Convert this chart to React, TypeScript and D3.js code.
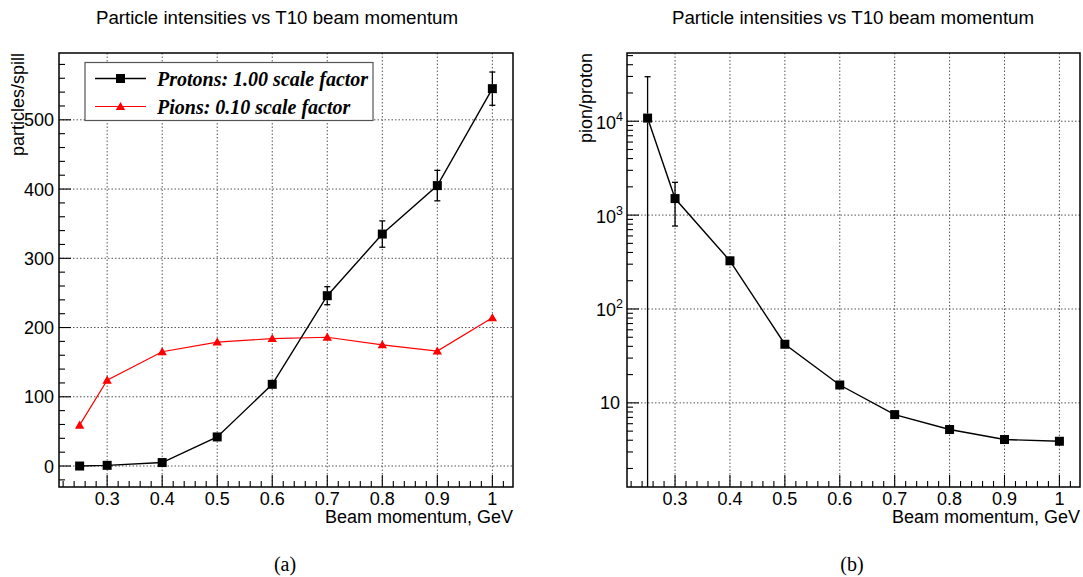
import React from 'react';
import * as d3 from 'd3';

// ---- data ----
const momenta = [0.25, 0.3, 0.4, 0.5, 0.6, 0.7, 0.8, 0.9, 1.0];
const protons = [0, 1, 5, 42, 118, 246, 335, 405, 545];
const protonErr = [0.5, 0.8, 1.5, 3, 6, 13, 19, 22, 24];
const pions = [59, 124, 165, 179, 184, 186, 175, 166, 214];
const ratio = [10800, 1500, 326, 42.1, 15.5, 7.5, 5.2, 4.07, 3.9];
const ratioErr = [19000, 735, 25, 2.5, 0.8, 0.35, 0.2, 0.15, 0.14];

const xTickValues = [0.3, 0.4, 0.5, 0.6, 0.7, 0.8, 0.9, 1.0];
const xTickLabels = ['0.3', '0.4', '0.5', '0.6', '0.7', '0.8', '0.9', '1'];
const yLinTicks = [0, 100, 200, 300, 400, 500];
const yLogDecades = [10, 100, 1000, 10000];
const yLogLabels = [
  { base: '10', exp: '' },
  { base: '10', exp: '2' },
  { base: '10', exp: '3' },
  { base: '10', exp: '4' },
];

const titleText = 'Particle intensities vs T10 beam momentum';
const xTitle = 'Beam momentum, GeV';
const legendLabels = ['Protons: 1.00 scale factor', 'Pions: 0.10 scale factor'];

const SANS = '"Liberation Sans", Arial, Helvetica, sans-serif';
const SERIF = '"Liberation Serif", "Times New Roman", serif';
const FS = 18;

const MAJ = 12;
const MIN = 6;

function Frame({ L, R, T, B }: any) {
  return <rect x={L} y={T} width={R - L} height={B - T} fill="none" stroke="#000" strokeWidth={1.5} />;
}

function XAxis({ x, T, B }: any) {
  const [d0, d1] = x.domain();
  const minors: number[] = [];
  for (let v = 0.2; v <= d1 + 1e-9; v += 0.02) {
    const r = Math.round(v * 100) / 100;
    if (r >= d0 && Math.round(r * 100) % 10 !== 0) minors.push(r);
  }
  return (
    <g>
      {xTickValues.map((v) => (
        <line key={'g' + v} x1={x(v)} x2={x(v)} y1={T} y2={B} stroke="#555" strokeWidth={1} strokeDasharray="1.5,2" />
      ))}
      {xTickValues.map((v) => (
        <line key={'t' + v} x1={x(v)} x2={x(v)} y1={B} y2={B - MAJ} stroke="#000" strokeWidth={1.1} />
      ))}
      {minors.map((v) => (
        <line key={'m' + v} x1={x(v)} x2={x(v)} y1={B} y2={B - MIN} stroke="#000" strokeWidth={1.1} />
      ))}
      {xTickValues.map((v, i) => (
        <text key={'l' + v} x={x(v)} y={B + 18} textAnchor="middle" fontFamily={SANS} fontSize={FS}>
          {xTickLabels[i]}
        </text>
      ))}
    </g>
  );
}

function ErrorBars({ x, y, xs, ys, es, ymin, B, color }: any) {
  return (
    <g>
      {xs.map((xv: number, i: number) => {
        const cx = x(xv);
        const cy = y(ys[i]);
        const hi = ys[i] + es[i];
        const lo = ys[i] - es[i];
        const yHi = y(hi);
        const loClipped = lo <= ymin;
        const yLo = loClipped ? B : y(lo);
        const segs: any[] = [];
        if (cy - yHi > 4.5) {
          segs.push(<line key="u" x1={cx} x2={cx} y1={cy - 4.5} y2={yHi} stroke={color} strokeWidth={1.3} />);
          segs.push(<line key="uc" x1={cx - 3} x2={cx + 3} y1={yHi} y2={yHi} stroke={color} strokeWidth={1.3} />);
        }
        if (yLo - cy > 4.5) {
          segs.push(<line key="d" x1={cx} x2={cx} y1={cy + 4.5} y2={yLo} stroke={color} strokeWidth={1.3} />);
          if (!loClipped)
            segs.push(<line key="dc" x1={cx - 3} x2={cx + 3} y1={yLo} y2={yLo} stroke={color} strokeWidth={1.3} />);
        }
        return <g key={i}>{segs}</g>;
      })}
    </g>
  );
}

function Squares({ x, y, xs, ys }: any) {
  return (
    <g>
      {xs.map((xv: number, i: number) => (
        <rect key={i} x={x(xv) - 4.5} y={y(ys[i]) - 4.5} width={9} height={9} fill="#000" />
      ))}
    </g>
  );
}

function Triangles({ x, y, xs, ys, color }: any) {
  const sym = d3.symbol().type(d3.symbolTriangle).size(38);
  return (
    <g>
      {xs.map((xv: number, i: number) => (
        <path key={i} d={sym() as string} transform={`translate(${x(xv)},${y(ys[i]) + 0.8})`} fill={color} />
      ))}
    </g>
  );
}

function LeftPlot() {
  const L = 59, R = 513, T = 53, B = 487;
  const x = d3.scaleLinear().domain([0.2125, 1.0375]).range([L, R]);
  const y = d3.scaleLinear().domain([-30.3, 596.5]).range([B, T]);
  const minorsY: number[] = [];
  for (let v = -20; v <= 580; v += 20) if (v % 100 !== 0) minorsY.push(v);
  const line = d3.line<number>().x((_, i) => x(momenta[i])).y((d) => y(d));
  return (
    <g>
      <text x={277} y={24} textAnchor="middle" fontFamily={SANS} fontSize={18.7}>{titleText}</text>
      {yLinTicks.map((v) => (
        <line key={'g' + v} x1={L} x2={R} y1={y(v)} y2={y(v)} stroke="#555" strokeWidth={1} strokeDasharray="1.5,2" />
      ))}
      <XAxis x={x} T={T} B={B} />
      {yLinTicks.map((v) => (
        <line key={'t' + v} x1={L} x2={L + MAJ} y1={y(v)} y2={y(v)} stroke="#000" strokeWidth={1.1} />
      ))}
      {minorsY.map((v) => (
        <line key={'m' + v} x1={L} x2={L + MIN} y1={y(v)} y2={y(v)} stroke="#000" strokeWidth={1.1} />
      ))}
      {yLinTicks.map((v) => (
        <text key={'l' + v} x={L - 5} y={y(v) + 6.5} textAnchor="end" fontFamily={SANS} fontSize={FS}>{v}</text>
      ))}
      <text transform={`translate(24,${T}) rotate(-90)`} textAnchor="end" fontFamily={SANS} fontSize={FS}>particles/spill</text>
      <text x={R} y={523} textAnchor="end" fontFamily={SANS} fontSize={FS}>{xTitle}</text>

      <path d={line(pions) as string} fill="none" stroke="#f00" strokeWidth={1.2} />
      <Triangles x={x} y={y} xs={momenta} ys={pions} color="#f00" />
      <ErrorBars x={x} y={y} xs={momenta} ys={protons} es={protonErr} ymin={-1e9} B={B} color="#000" />
      <path d={line(protons) as string} fill="none" stroke="#000" strokeWidth={1.4} />
      <Squares x={x} y={y} xs={momenta} ys={protons} />

      {/* legend */}
      <g>
        <rect x={85} y={62.5} width={288} height={58} fill="#fff" stroke="#555" strokeWidth={1.2} />
        <line x1={95} x2={146} y1={78.5} y2={78.5} stroke="#000" strokeWidth={1.4} />
        <rect x={116} y={74} width={9} height={9} fill="#000" />
        <line x1={95} x2={146} y1={106.5} y2={106.5} stroke="#f00" strokeWidth={1.2} />
        <path d={d3.symbol().type(d3.symbolTriangle).size(38)() as string} transform="translate(120.5,107.3)" fill="#f00" />
        <text x={157} y={85.5} fontFamily={SERIF} fontWeight="bold" fontStyle="italic" fontSize={20}>{legendLabels[0]}</text>
        <text x={157} y={113.5} fontFamily={SERIF} fontWeight="bold" fontStyle="italic" fontSize={20}>{legendLabels[1]}</text>
      </g>
      <Frame L={L} R={R} T={T} B={B} />
      <text x={285} y={571} textAnchor="middle" fontFamily={SERIF} fontSize={20}>(a)</text>
    </g>
  );
}

function RightPlot() {
  const L = 627, R = 1080, T = 53, B = 487;
  const x = d3.scaleLinear().domain([0.2125, 1.0375]).range([L, R]);
  const y = d3.scaleLog().domain([1.27, 53300]).range([B, T]);
  const ymin = 1.27;
  const minorsY: number[] = [];
  for (let dec = 1; dec <= 10000; dec *= 10)
    for (let k = 2; k <= 9; k++) {
      const v = k * dec;
      if (v >= 1.27 && v <= 53300) minorsY.push(v);
    }
  const line = d3.line<number>().x((_, i) => x(momenta[i])).y((d) => y(d));
  return (
    <g>
      <text x={853} y={24} textAnchor="middle" fontFamily={SANS} fontSize={18.7}>{titleText}</text>
      {yLogDecades.map((v) => (
        <line key={'g' + v} x1={L} x2={R} y1={y(v)} y2={y(v)} stroke="#555" strokeWidth={1} strokeDasharray="1.5,2" />
      ))}
      <XAxis x={x} T={T} B={B} />
      {yLogDecades.map((v) => (
        <line key={'t' + v} x1={L} x2={L + MAJ} y1={y(v)} y2={y(v)} stroke="#000" strokeWidth={1.1} />
      ))}
      {minorsY.map((v) => (
        <line key={'m' + v} x1={L} x2={L + MIN} y1={y(v)} y2={y(v)} stroke="#000" strokeWidth={1.1} />
      ))}
      {yLogDecades.map((v, i) => {
        const lab = yLogLabels[i];
        if (!lab.exp)
          return (
            <text key={'l' + v} x={L - 7} y={y(v) + 6.5} textAnchor="end" fontFamily={SANS} fontSize={FS}>{lab.base}</text>
          );
        return (
          <text key={'l' + v} x={L - 4} y={y(v) + 7.5} textAnchor="end" fontFamily={SANS} fontSize={FS}>
            {lab.base}
            <tspan fontSize={12.5} dy={-8}>{lab.exp}</tspan>
          </text>
        );
      })}
      <text transform={`translate(592,${T}) rotate(-90)`} textAnchor="end" fontFamily={SANS} fontSize={FS}>pion/proton</text>
      <text x={R} y={523} textAnchor="end" fontFamily={SANS} fontSize={FS}>{xTitle}</text>

      <ErrorBars x={x} y={y} xs={momenta} ys={ratio} es={ratioErr} ymin={ymin} B={B} color="#000" />
      <path d={line(ratio) as string} fill="none" stroke="#000" strokeWidth={1.4} />
      <Squares x={x} y={y} xs={momenta} ys={ratio} />
      <Frame L={L} R={R} T={T} B={B} />
      <text x={852} y={571} textAnchor="middle" fontFamily={SERIF} fontSize={20}>(b)</text>
    </g>
  );
}

export default function App() {
  return (
    <svg
      width={1083}
      height={577}
      viewBox="0 0 1083 577"
      style={{ position: 'absolute', left: 0, top: 0, background: '#fff' }}
    >
      <rect width={1083} height={577} fill="#fff" />
      <LeftPlot />
      <RightPlot />
    </svg>
  );
}
